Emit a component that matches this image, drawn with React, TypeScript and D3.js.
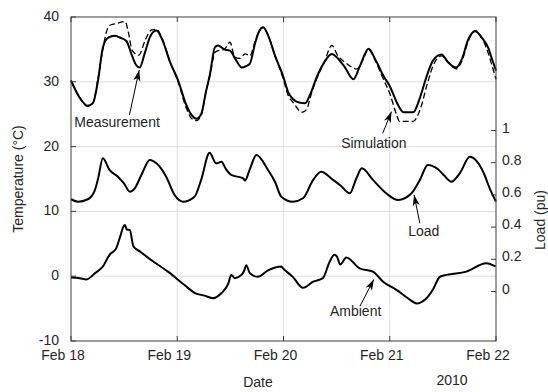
import React from 'react';
import * as d3 from 'd3';

const W = 548;
const H = 392;
const plot = { left: 71, right: 496, top: 17, bottom: 341 };

// Days shown on the time axis (UTC)
const dayTicks = ['2010-02-18', '2010-02-19', '2010-02-20', '2010-02-21', '2010-02-22'];
const tempTicks = [-10, 0, 10, 20, 30, 40];
const tempGrid = [0, 10, 20, 30];
const loadTicks = [0, 0.2, 0.4, 0.6, 0.8, 1];
const yearLabel = '2010';

// [hours since Feb 18 00:00, °C]
const measurement: [number, number][] = [
  [0, 30.2], [2.0, 27.5], [3.8, 26.3], [5, 26.8], [6.1, 30.2], [7.2, 35.3], [8.4, 36.8],
  [9.9, 37.1], [11.1, 36.8], [12.5, 36.3], [13.8, 34.0], [14.7, 32.6], [15.5, 32.2],
  [16.7, 34.5], [17.9, 37.0], [19.3, 37.9], [20.6, 36.5], [22.4, 33.0], [24.2, 30.2],
  [26, 26.5], [27.3, 24.8], [28.3, 24.3], [29.4, 25.0], [30.5, 28.5], [31.4, 31.2],
  [32.5, 35.3], [33.2, 35.6], [34.6, 35.0], [35.9, 34.8], [37.3, 33.3], [38.6, 32.2],
  [39.5, 32.4], [40.4, 32.8], [41.6, 36.0], [42.5, 37.8], [43.4, 38.4], [44.5, 37.2],
  [46.1, 34.0], [48, 30.7], [49, 28.5], [50.2, 27.3], [51.5, 26.8], [52.9, 26.7],
  [54, 28.0], [55.5, 30.7], [57.2, 33.0], [58.9, 34.3], [60.3, 33.6], [61.9, 32.2],
  [63.8, 30.4], [65.3, 32.5], [67.2, 35.1], [68.7, 33.5], [70.5, 31.0], [72.1, 29.2],
  [73.6, 26.8], [75.1, 25.3], [77.3, 25.3], [78.8, 27.5], [80.4, 31.0], [81.8, 33.3],
  [83.7, 34.2], [85.2, 33.0], [87, 32.2], [88.3, 33.5], [89.7, 36.5], [91.3, 37.8],
  [92.8, 36.8], [94.2, 35.3], [95.1, 33.5], [96, 31.7],
];

// [hours, °C]
const simulation: [number, number][] = [
  [0, 30.2], [2.0, 27.5], [3.8, 26.2], [5, 26.8], [6.1, 30.5], [7.2, 35.0], [8.0, 37.7],
  [9.0, 38.8], [10.3, 39.0], [12.2, 39.3], [13.0, 37.5], [13.8, 34.9], [15.3, 34.1],
  [16.8, 36.5], [18.2, 38.0], [19.3, 38.1], [20.6, 36.7], [22.4, 33.0], [24.2, 30.0],
  [26, 26.0], [27.3, 24.3], [28.3, 24.0], [29.4, 24.8], [30.5, 28.5], [31.4, 31.0],
  [32.5, 34.5], [33.2, 34.8], [34.6, 35.0], [35.9, 36.1], [37.0, 33.8], [38.0, 33.6],
  [39.4, 34.3], [40.4, 34.0], [41.6, 36.3], [42.5, 37.8], [43.4, 38.4], [44.5, 37.2],
  [46.1, 34.0], [48, 30.3], [49, 28.0], [50.2, 26.8], [52.2, 25.3], [53.3, 25.8],
  [54, 27.5], [55.5, 30.5], [57.2, 33.0], [58.9, 35.6], [60.3, 34.0], [61.9, 33.0],
  [64.6, 32.0], [66, 33.5], [67.2, 35.0], [68.7, 33.3], [70.5, 30.5], [72.1, 28.0],
  [73.5, 25.0], [74.2, 23.9], [77.3, 23.9], [79, 26.0], [80.4, 29.5], [81.8, 32.5],
  [83.7, 34.0], [85.2, 33.0], [87, 32.0], [88.3, 33.2], [89.7, 36.2], [91.3, 37.9],
  [92.8, 36.8], [94.2, 34.5], [95.1, 32.5], [96, 30.4],
];

// [hours, pu]
const load: [number, number][] = [
  [0, 0.573], [1.6, 0.558], [3.8, 0.573], [5.4, 0.63], [6.1, 0.699], [7.2, 0.827],
  [8.7, 0.755], [10.6, 0.713], [12.0, 0.67], [13.3, 0.62], [14.4, 0.641], [16.0, 0.73],
  [17.8, 0.817], [19.3, 0.796], [21.5, 0.713], [23.4, 0.599], [25.3, 0.558], [27.9, 0.589],
  [29.4, 0.693], [31.3, 0.862], [32.8, 0.796], [34.0, 0.806], [35.0, 0.76], [36.2, 0.724],
  [38.9, 0.703], [39.3, 0.689], [40.4, 0.76], [41.9, 0.848], [44.5, 0.755], [46.1, 0.68],
  [47.5, 0.589], [50.1, 0.558], [52.4, 0.579], [54.7, 0.693], [56.5, 0.744], [59.2, 0.693],
  [60.8, 0.66], [63.0, 0.61], [64.4, 0.699], [65.7, 0.765], [68.2, 0.693], [71.2, 0.61],
  [73.9, 0.568], [76.9, 0.61], [78.8, 0.693], [80.6, 0.786], [82.9, 0.759], [84.3, 0.72],
  [85.9, 0.682], [87.8, 0.734], [90.1, 0.837], [93.1, 0.744], [94.6, 0.639], [96, 0.558],
];

// [hours, °C]
const ambient: [number, number][] = [
  [0, -0.2], [2.0, -0.3], [3.5, -0.5], [5.4, 0.45], [7.2, 1.5], [8.7, 3.3], [10.2, 4.3],
  [11.1, 6.1], [11.8, 7.6], [12.2, 7.9], [12.6, 7.2], [13.3, 7.1], [14.1, 4.6], [15.6, 3.8],
  [18.1, 2.5], [21.9, 0.7], [25.7, -1.4], [28.0, -2.6], [30.2, -3.0], [32.1, -3.4],
  [34.0, -2.6], [35.5, -1.2], [36.2, 0.2], [37.0, -0.3], [38.5, 0.2], [39.1, 0.8],
  [39.6, 1.7], [40.4, 0.45], [42.2, -0.1], [44.5, 0.9], [47.5, 1.5], [47.9, 1.2],
  [50.1, -0.1], [52.4, -1.8], [54.7, -0.85], [56.9, -0.3], [58.4, 2.2], [59.5, 3.3],
  [60.1, 3.0], [60.8, 1.8], [62.2, 2.9], [65.2, 1.2], [68.2, 0.7], [70.5, -0.85],
  [73.5, -2.1], [76.1, -3.4], [78.1, -4.2], [80.0, -3.6], [81.8, -2.0], [83.3, -0.1],
  [84.8, 0.2], [89.3, 0.7], [93.8, 2.0], [95.9, 1.5],
];

// Callouts: label, axis, text anchor, arrow tail, arrow tip (hours, value)
type Callout = { text: string; axis: 'temp' | 'load'; label: [number, number]; tail: [number, number]; tip: [number, number] };
const callouts: Callout[] = [
  { text: 'Measurement', axis: 'temp', label: [10.4, 23.85], tail: [13.2, 24.9], tip: [15.4, 31.8] },
  { text: 'Simulation', axis: 'temp', label: [68.4, 20.6], tail: [70.4, 22.05], tip: [72.4, 25.4] },
  { text: 'Load', axis: 'load', label: [79.7, 0.377], tail: [78.8, 0.424], tip: [77.5, 0.6] },
  { text: 'Ambient', axis: 'temp', label: [64.3, -5.3], tail: [65.4, -4.45], tip: [68.4, -0.5] },
];

const start = Date.UTC(2010, 1, 18);
const toDate = (h: number) => new Date(start + h * 3600 * 1000);

const FONT = 'Liberation Sans, Arial, Helvetica, sans-serif';
const TEXT = '#262626';
const AXIS = '#3c3c3c';
const GRID = '#dedede';

export default function App() {
  const x = d3.scaleUtc().domain([toDate(0), toDate(96)]).range([plot.left, plot.right]);
  const yT = d3.scaleLinear().domain([-10, 40]).range([plot.bottom, plot.top]);
  const yL = d3.scaleLinear().domain([0, 1]).range([291.5, 130.5]);

  const lineT = d3.line<[number, number]>().x(d => x(toDate(d[0]))).y(d => yT(d[1])).curve(d3.curveMonotoneX);
  const lineL = d3.line<[number, number]>().x(d => x(toDate(d[0]))).y(d => yL(d[1])).curve(d3.curveMonotoneX);
  const fmt = d3.utcFormat('%b %d');
  const days = dayTicks.map(s => new Date(s + 'T00:00:00Z'));

  const arrowHead = (tx: number, ty: number, fx: number, fy: number) => {
    const ang = Math.atan2(ty - fy, tx - fx);
    const len = 11, half = 3.6, notch = 8;
    const ux = Math.cos(ang), uy = Math.sin(ang);
    const px = -uy, py = ux;
    const bx = tx - ux * len, by = ty - uy * len;
    const nx = tx - ux * notch, ny = ty - uy * notch;
    return `${tx},${ty} ${bx + px * half},${by + py * half} ${nx},${ny} ${bx - px * half},${by - py * half}`;
  };

  return (
    <svg width={W} height={H} style={{ position: 'absolute', left: 0, top: 0, background: '#fff' }} fontFamily={FONT}>
      <rect width={W} height={H} fill="#fff" />
      {/* grid */}
      {tempGrid.map(v => (
        <line key={'hg' + v} x1={plot.left} x2={plot.right} y1={yT(v)} y2={yT(v)} stroke={GRID} strokeWidth={1} />
      ))}
      {days.slice(1, -1).map(d => (
        <line key={'vg' + d.getTime()} x1={x(d)} x2={x(d)} y1={plot.top} y2={plot.bottom} stroke={GRID} strokeWidth={1} />
      ))}

      {/* series */}
      <path d={lineT(measurement) || ''} fill="none" stroke="#000" strokeWidth={2} strokeLinejoin="round" />
      <path d={lineT(simulation) || ''} fill="none" stroke="#000" strokeWidth={1.3} strokeDasharray="6,3" />
      <path d={lineL(load) || ''} fill="none" stroke="#000" strokeWidth={2} strokeLinejoin="round" />
      <path d={lineT(ambient) || ''} fill="none" stroke="#000" strokeWidth={2} strokeLinejoin="round" />

      {/* box */}
      <rect x={plot.left} y={plot.top} width={plot.right - plot.left} height={plot.bottom - plot.top} fill="none" stroke={AXIS} strokeWidth={1} />

      {/* left axis */}
      {tempTicks.map(v => (
        <g key={'lt' + v}>
          <line x1={plot.left} x2={plot.left + 5} y1={yT(v)} y2={yT(v)} stroke={AXIS} />
          <text x={plot.left - 12} y={yT(v) - 1} textAnchor="end" dominantBaseline="central" fontSize={14} fill={TEXT}>{v}</text>
        </g>
      ))}
      {/* right axis */}
      {loadTicks.map(v => (
        <g key={'rt' + v}>
          <line x1={plot.right - 5} x2={plot.right} y1={yL(v)} y2={yL(v)} stroke={AXIS} />
          <text x={plot.right + 6} y={yL(v) - 3} textAnchor="start" dominantBaseline="central" fontSize={14} fill={TEXT}>{String(v)}</text>
        </g>
      ))}
      {/* time axis */}
      {days.map(d => (
        <g key={'bt' + d.getTime()}>
          <line x1={x(d)} x2={x(d)} y1={plot.bottom} y2={plot.bottom - 5} stroke={AXIS} />
          <line x1={x(d)} x2={x(d)} y1={plot.top} y2={plot.top + 5} stroke={AXIS} />
          <text x={x(d) - 8} y={355} textAnchor="middle" dominantBaseline="central" fontSize={14} fill={TEXT}>{fmt(d)}</text>
        </g>
      ))}

      {/* axis titles */}
      <text x={258} y={382} textAnchor="middle" dominantBaseline="central" fontSize={14} fill={TEXT}>Date</text>
      <text x={452} y={380} textAnchor="middle" dominantBaseline="central" fontSize={14} fill={TEXT}>{yearLabel}</text>
      <text transform={`translate(18,${(plot.top + plot.bottom) / 2}) rotate(-90)`} textAnchor="middle" dominantBaseline="central" fontSize={14} fill={TEXT}>Temperature (°C)</text>
      <text transform={`translate(540,220) rotate(-90)`} textAnchor="middle" dominantBaseline="central" fontSize={14} fill={TEXT}>Load (pu)</text>

      {/* callouts */}
      {callouts.map(c => {
        const ys = c.axis === 'temp' ? yT : yL;
        const lx = x(toDate(c.label[0])), ly = ys(c.label[1]);
        const fx = x(toDate(c.tail[0])), fy = ys(c.tail[1]);
        const tx = x(toDate(c.tip[0])), ty = ys(c.tip[1]);
        return (
          <g key={c.text}>
            <line x1={fx} y1={fy} x2={tx} y2={ty} stroke="#000" strokeWidth={1} />
            <polygon points={arrowHead(tx, ty, fx, fy)} fill="#000" />
            <text x={lx} y={ly} textAnchor="middle" dominantBaseline="central" fontSize={14} fill={TEXT}>{c.text}</text>
          </g>
        );
      })}
    </svg>
  );
}
